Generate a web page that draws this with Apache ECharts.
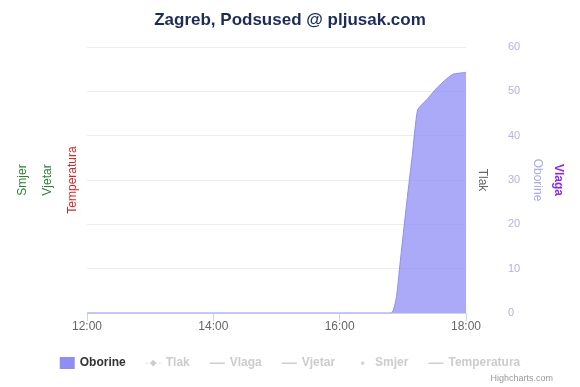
<!DOCTYPE html>
<html>
<head>
<meta charset="utf-8">
<script src="https://cdn.jsdelivr.net/npm/echarts@6/dist/echarts.min.js"></script>
<style>html,body{margin:0;padding:0;background:#fff}#c{width:580px;height:387px}</style>
</head>
<body>
<div id="c"></div>
<script>
// ---- data ----
const titleText = 'Zagreb, Podsused @ pljusak.com';
const times = ['12:00','16:49','16:54','16:57','17:04','17:09','17:14','17:23','17:32','17:42','17:48','17:57','18:00'];
const oborine = [0, 0, 3.7, 10.4, 25.5, 35.6, 45.8, 48.2, 50.7, 52.9, 53.9, 54.2, 54.3];
const xTicks = ['12:00','14:00','16:00','18:00'];
const legendNames = ['Oborine','Tlak','Vlaga','Vjetar','Smjer','Temperatura'];
const tlak = [], vlaga = [], vjetar = [], smjer = [], temperatura = [];

const toMin = s => { const p = s.split(':'); return (+p[0]) * 60 + (+p[1]); };
const fmt = m => String(Math.floor(m / 60)).padStart(2, '0') + ':' + String(m % 60).padStart(2, '0');
const xMin = toMin(xTicks[0]), xMax = toMin(xTicks[xTicks.length - 1]);

const chart = echarts.init(document.getElementById('c'), null, {renderer: 'canvas'});
const FONT = 'Liberation Sans, Arial, sans-serif';

const ICON_LINE = 'path://M0,0L0,0 M16,12L16,12 M0,5.5h16v1.5h-16z';
const ICON_TLAK = 'path://M0,0L0,0 M16,12L16,12 M0,5.6h2v1h-2z M4,5.6h1.5v1h-1.5z M8,2.5L11.5,6.1L8,9.7L4.5,6.1z M10.5,5.6h1.5v1h-1.5z M14,5.6h2v1h-2z';
const ICON_DOT = 'path://M0,0L0,0 M16,12L16,12 M6,6a2,2 0 1 0 4,0a2,2 0 1 0 -4,0z';

function nameAxis(pos, name, color, gap, rot, bold) {
  return {
    type: 'value', position: pos, min: 0, max: 1,
    name: name, nameLocation: 'middle', nameGap: gap, nameRotate: rot,
    nameTextStyle: {color: color, fontSize: 12, fontFamily: FONT, fontWeight: bold ? 'bold' : 'normal'},
    axisLine: {show: false}, axisTick: {show: false}, axisLabel: {show: false}, splitLine: {show: false}
  };
}

chart.setOption({
  animation: false,
  title: {
    text: titleText, left: 'center', top: 7,
    textStyle: {color: '#1c2b58', fontSize: 17, fontWeight: 'bold', fontFamily: FONT}
  },
  legend: {
    data: [
      {name: legendNames[0], icon: 'rect'},
      {name: legendNames[1], icon: ICON_TLAK},
      {name: legendNames[2], icon: ICON_LINE},
      {name: legendNames[3], icon: ICON_LINE},
      {name: legendNames[4], icon: ICON_DOT},
      {name: legendNames[5], icon: ICON_LINE}
    ],
    selected: {Oborine: true, Tlak: false, Vlaga: false, Vjetar: false, Smjer: false, Temperatura: false},
    left: 'center', top: 352, itemGap: 20, itemWidth: 15, itemHeight: 12,
    symbolKeepAspect: true,
    inactiveColor: '#cccccc',
    textStyle: {color: '#333', fontSize: 12, fontWeight: 'bold', fontFamily: FONT}
  },
  graphic: [{
    type: 'text', right: 27, top: 374,
    style: {text: 'Highcharts.com', fill: '#999', fontSize: 9, fontFamily: FONT}
  }],
  grid: {left: 87, right: 114, top: 47, bottom: 74},
  xAxis: {
    type: 'value', min: xMin, max: xMax, interval: 120,
    axisLine: {show: true, lineStyle: {color: '#ccd6eb'}},
    axisTick: {show: true, length: 8, lineStyle: {color: '#ccd6eb'}},
    axisLabel: {color: '#666', fontSize: 12, fontFamily: FONT, margin: 8, formatter: v => fmt(v)},
    splitLine: {show: false}
  },
  yAxis: [
    {
      type: 'value', position: 'right', min: 0, max: 60, interval: 10,
      name: 'Oborine', nameLocation: 'middle', nameGap: 53, nameRotate: -90,
      nameTextStyle: {color: '#a9a9e6', fontSize: 12, fontFamily: FONT},
      axisLine: {show: false}, axisTick: {show: false},
      axisLabel: {color: '#b3b3dd', fontSize: 11, fontFamily: FONT, margin: 42},
      splitLine: {show: true, lineStyle: {color: '#ececec'}}
    },
    nameAxis('right', 'Tlak', '#666666', 10, -90, false),
    nameAxis('right', 'Vlaga', '#8a2be2', 86, -90, true),
    nameAxis('left', 'Temperatura', '#d62728', 8, 90, false),
    nameAxis('left', 'Vjetar', '#2e7d32', 33, 90, false),
    nameAxis('left', 'Smjer', '#2e7d32', 58, 90, false)
  ],
  series: [
    {
      name: 'Oborine', type: 'line', yAxisIndex: 0, symbol: 'none', smooth: 0.15,
      color: '#8e8ef5',
      lineStyle: {width: 1, color: '#8e8ef5'},
      areaStyle: {color: '#8e8ef5', opacity: 0.75},
      data: times.map((t, i) => [toMin(t), oborine[i]])
    },
    {name: 'Tlak', type: 'line', yAxisIndex: 1, symbol: 'diamond', color: '#666', data: tlak},
    {name: 'Vlaga', type: 'line', yAxisIndex: 2, symbol: 'none', color: '#8a2be2', data: vlaga},
    {name: 'Vjetar', type: 'line', yAxisIndex: 4, symbol: 'none', color: '#2e7d32', data: vjetar},
    {name: 'Smjer', type: 'scatter', yAxisIndex: 5, symbol: 'circle', color: '#2e7d32', data: smjer},
    {name: 'Temperatura', type: 'line', yAxisIndex: 3, symbol: 'none', color: '#d62728', data: temperatura}
  ]
});
</script>
</body>
</html>
